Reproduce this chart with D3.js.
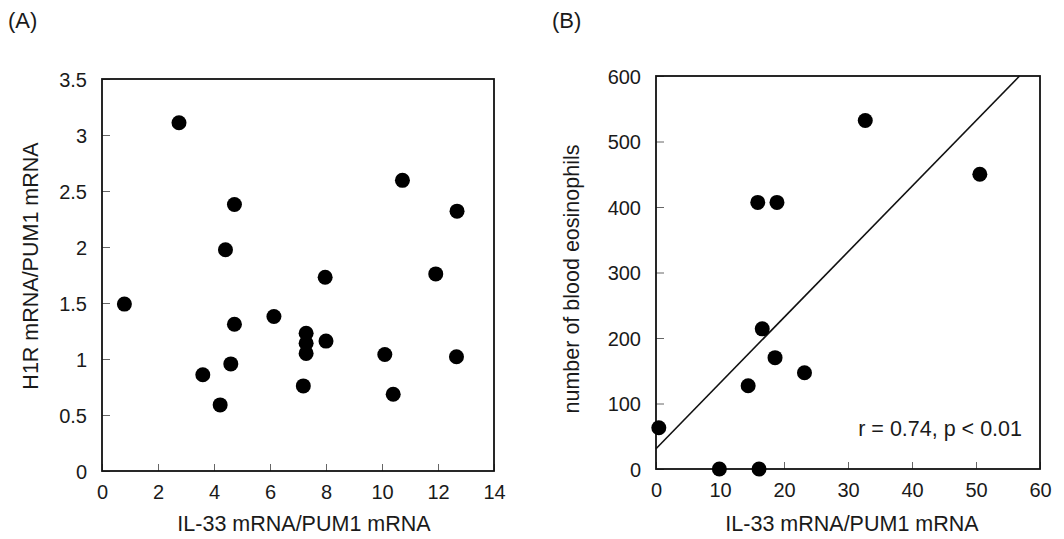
<!DOCTYPE html>
<html>
<head>
<meta charset="utf-8">
<script src="https://cdn.jsdelivr.net/npm/d3@7"></script>
<style>
  html, body { margin: 0; padding: 0; background: #fff; }
  svg { display: block; font-family: "Liberation Sans", Arial, sans-serif; }
  .tick text { font-size: 20px; fill: #1a1a1a; }
  .tick line { stroke: #666; stroke-width: 1; }
  .title { font-size: 21.5px; fill: #1a1a1a; }
  .tag { font-size: 22px; fill: #1a1a1a; }
</style>
</head>
<body>
<div id="chart"></div>
<script>
// Panel A: IL-33 vs H1R
const il33A = [0.8, 2.75, 4.73, 4.41, 4.73, 3.6, 4.6, 4.22, 6.14, 7.29, 7.29, 7.29, 7.19, 7.97, 8.0, 10.1, 10.4, 10.73, 11.92, 12.66, 12.68];
const h1r   = [1.49, 3.11, 2.38, 1.975, 1.31, 0.86, 0.956, 0.59, 1.38, 1.23, 1.14, 1.05, 0.76, 1.73, 1.16, 1.04, 0.685, 2.595, 1.76, 1.02, 2.32];
const xTicksA = [0, 2, 4, 6, 8, 10, 12, 14];
const yTicksA = [0, 0.5, 1, 1.5, 2, 2.5, 3, 3.5];

// Panel B: IL-33 vs blood eosinophils
const il33B = [32.7, 15.9, 18.9, 50.6, 0.44, 9.9, 16.1, 16.6, 18.6, 14.4, 23.2];
const eos   = [532, 407, 407, 450, 63, 0, 0, 214, 170, 127, 147];
const xTicksB = [0, 10, 20, 30, 40, 50, 60];
const yTicksB = [0, 100, 200, 300, 400, 500, 600];
const fitLine = [[0, 31], [56.8, 600]];
const statText = 'r = 0.74, p < 0.01';

const W = 1064, H = 539;
const svg = d3.select('#chart').append('svg')
  .attr('width', W).attr('height', H);

function panel(cfg) {
  const x = d3.scaleLinear().domain(cfg.xDomain).range([cfg.left, cfg.right]);
  const y = d3.scaleLinear().domain(cfg.yDomain).range([cfg.bottom, cfg.top]);
  const g = svg.append('g');

  g.append('g')
    .attr('transform', `translate(0,${cfg.bottom})`)
    .call(d3.axisBottom(x).tickValues(cfg.xTicks).tickSize(-7).tickPadding(14).tickFormat(d3.format('')))
    .call(a => a.select('.domain').remove());

  g.append('g')
    .attr('transform', `translate(${cfg.left},0)`)
    .call(d3.axisLeft(y).tickValues(cfg.yTicks).tickSize(-8).tickPadding(15).tickFormat(d3.format('')))
    .call(a => a.select('.domain').remove())
    .selectAll('text').attr('dy', '0.36em');

  // frame
  g.append('rect')
    .attr('x', cfg.left).attr('y', cfg.top)
    .attr('width', cfg.right - cfg.left).attr('height', cfg.bottom - cfg.top)
    .attr('fill', 'none').attr('stroke', '#111').attr('stroke-width', 1.8);

  if (cfg.fit) {
    g.append('path')
      .attr('d', d3.line().x(d => x(d[0])).y(d => y(d[1]))(cfg.fit))
      .attr('fill', 'none').attr('stroke', '#111').attr('stroke-width', 1.6);
  }

  g.selectAll('circle.dot')
    .data(cfg.xs.map((v, i) => [v, cfg.ys[i]]))
    .join('circle')
    .attr('class', 'dot')
    .attr('cx', d => x(d[0]))
    .attr('cy', d => y(d[1]))
    .attr('r', 7.5)
    .attr('fill', '#000');

  g.append('text').attr('class', 'title')
    .attr('x', cfg.xLabelX).attr('y', 531)
    .attr('text-anchor', 'middle')
    .text('IL-33 mRNA/PUM1 mRNA');

  g.append('text').attr('class', 'title')
    .attr('transform', `translate(${cfg.yLabelX},${cfg.yLabelY}) rotate(-90)`)
    .attr('text-anchor', 'middle')
    .text(cfg.yLabel);

  g.append('text').attr('class', 'tag')
    .attr('x', cfg.tagX).attr('y', 28)
    .text(cfg.tag);

  return { x, y, g };
}

panel({
  left: 102, right: 494, top: 79, bottom: 471,
  xDomain: [0, 14], yDomain: [0, 3.5],
  xTicks: xTicksA, yTicks: yTicksA,
  xs: il33A, ys: h1r,
  xLabelX: 304, yLabelX: 38, yLabelY: 266,
  yLabel: 'H1R mRNA/PUM1 mRNA', tag: '(A)', tagX: 8
});

const pB = panel({
  left: 656, right: 1040, top: 76, bottom: 469,
  xDomain: [0, 60], yDomain: [0, 600],
  xTicks: xTicksB, yTicks: yTicksB,
  xs: il33B, ys: eos, fit: fitLine,
  xLabelX: 852, yLabelX: 579, yLabelY: 279,
  yLabel: 'number of blood eosinophils', tag: '(B)', tagX: 552
});

pB.g.append('text').attr('class', 'title')
  .attr('x', 1022).attr('y', 436)
  .attr('text-anchor', 'end')
  .text(statText);
</script>
</body>
</html>
